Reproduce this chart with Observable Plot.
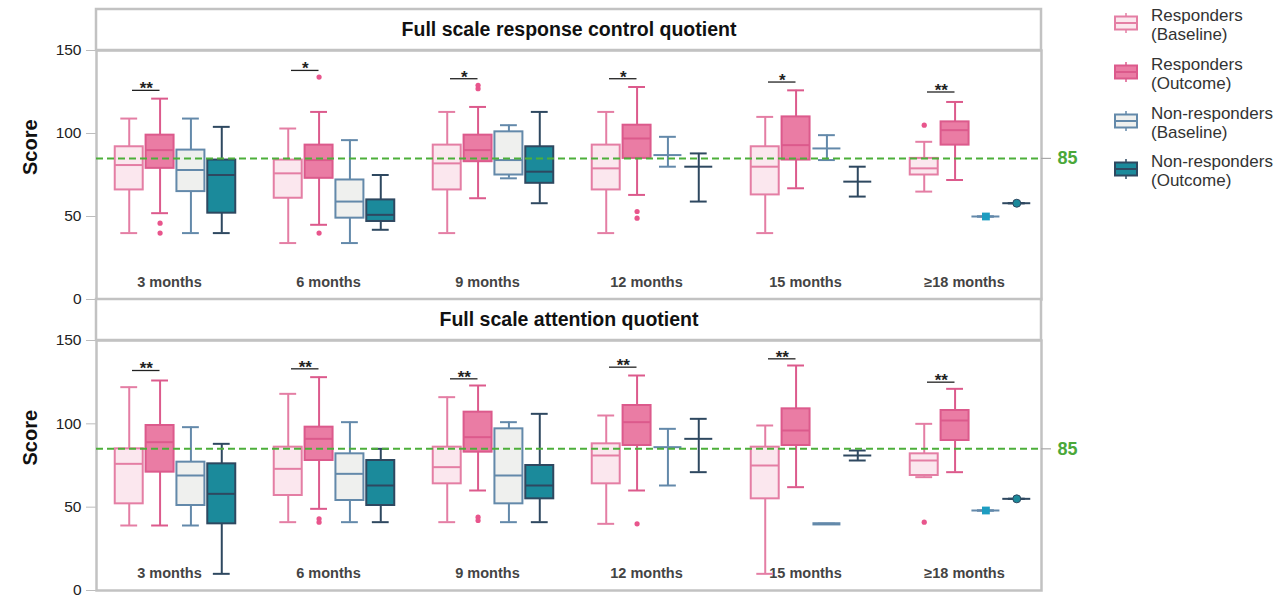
<!DOCTYPE html>
<html><head><meta charset="utf-8">
<script src="https://cdn.jsdelivr.net/npm/d3@7"></script>
<script src="https://cdn.jsdelivr.net/npm/@observablehq/plot@0.6"></script>
<style>
html,body{margin:0;padding:0;background:#fff;}
#wrap{position:relative;width:1286px;height:598px;font-family:"Liberation Sans",Arial,Helvetica,sans-serif;overflow:hidden;}
#wrap svg{position:absolute;left:0;overflow:visible;}
#wrap g[aria-label="y-axis tick"], #wrap g[aria-label="y-axis tick"] path, #wrap g[aria-label="y-axis"] line{stroke:#bdbdbd;}
</style></head><body><div id="wrap"></div>
<script>
// ---------- data ----------
const groups = ["3 months", "6 months", "9 months", "12 months", "15 months", "≥18 months"];
const seriesNames = [["Responders", "(Baseline)"], ["Responders", "(Outcome)"], ["Non-responders", "(Baseline)"], ["Non-responders", "(Outcome)"]];
const yTicks = [0, 50, 100, 150];
const threshold = 85;

// stats: [lower whisker, Q1, median, Q3, upper whisker]
const rcqTitle = "Full scale response control quotient";
const rcqRB = [[40,66,81,92,109],[34,61,76,84,103],[40,66,82,93,113],[40,66,79,93,113],[40,63,80,92,110],[65,75,79,85,95]];
const rcqRO = [[52,79,90,99,121],[45,73,84,93,113],[61,83,90,99,116],[63,85,97,105,128],[67,84,93,110,126],[72,93,102,107,119]];
const rcqNB = [[40,65,78,90,109],[34,49,59,72,96],[73,75,84,101,105],[80,87,87,87,98],[84,91,91,91,99],[50,50,50,50,50]];
const rcqNO = [[40,52,75,84,104],[42,47,51,60,75],[58,70,77,92,113],[59,80,80,80,88],[62,71,71,71,80],[58,58,58,58,58]];
const rcqOutRB = [[],[],[],[],[],[105]];
const rcqOutRO = [[46,40],[134,40],[127,129],[53,49],[],[]];
const rcqPointNB = [null,null,null,null,null,50];
const rcqPointNO = [null,null,null,null,null,58];
const rcqSig = ["**","*","*","*","*","**"];
const rcqSigY = [126,138,133,133,131,125];

const fsaqTitle = "Full scale attention quotient";
const fsaqRB = [[39,52,76,85,122],[41,57,73,86,118],[41,64,74,86,116],[40,64,81,88,105],[10,55,75,86,99],[68,69,78,82,100]];
const fsaqRO = [[39,71,89,99,126],[49,78,91,98,128],[60,83,92,107,123],[60,87,101,111,129],[62,87,96,109,135],[71,90,102,108,121]];
const fsaqNB = [[39,51,69,77,98],[41,54,70,82,101],[41,52,69,97,101],[63,86,86,86,97],[40,40,40,40,40],[48,48,48,48,48]];
const fsaqNO = [[10,40,58,76,88],[41,51,63,78,85],[41,55,63,75,106],[71,91,91,91,103],[78,81,81,81,84],[55,55,55,55,55]];
const fsaqOutRB = [[],[],[],[],[],[41]];
const fsaqOutRO = [[],[43,41],[44,42],[40],[],[]];
const fsaqPointNB = [null,null,null,null,null,48];
const fsaqPointNO = [null,null,null,null,null,55];
const fsaqSig = ["**","**","**","**","**","**"];
const fsaqSigY = [132,133,127,134,139,125];

// ---------- styling ----------
const strokeCol = ["#e47ea4", "#dc5a8c", "#6389aa", "#2e4860"];
const fillCol = ["#fbe7ee", "#ea7ca4", "#eff0ee", "#1b8a9b"];
const offs = [-0.291, -0.097, 0.097, 0.291];
const boxHalf = 0.088, capHalf = 0.053;
const xd = [(96 - 175) / 159, (1041 - 175) / 159];
const FONT = '"Liberation Sans", Arial, Helvetica, sans-serif';
const hasAxisMark = typeof Plot.axisY === "function";

function makePanel(cfg) {
  const ptKey = new Set();
  cfg.pointNB.forEach((v, g) => { if (v != null) ptKey.add(g + ":2"); });
  cfg.pointNO.forEach((v, g) => { if (v != null) ptKey.add(g + ":3"); });
  const rows = [];
  cfg.stats.forEach((arr, s) => arr.forEach((st, g) => rows.push({g, s, x: g + offs[s], low: st[0], q1: st[1], med: st[2], q3: st[3], high: st[4], pt: ptKey.has(g + ":" + s)})));
  const outs = [];
  cfg.outs.forEach(([s, arr]) => arr.forEach((vals, g) => vals.forEach(v => outs.push({x: g + offs[s], v}))));
  const sq = [], ci = [];
  cfg.pointNB.forEach((v, g) => { if (v != null) sq.push({x: g + offs[2], v}); });
  cfg.pointNO.forEach((v, g) => { if (v != null) ci.push({x: g + offs[3], v}); });
  const sig = cfg.sig.map((t, g) => ({g, t, y: cfg.sigY[g], xm: g + (offs[0] + offs[1]) / 2 + 0.01}));
  const stripTop = 150 + 41 * 150 / cfg.frameH;
  const flat = d => d.low === d.high && !d.pt;
  const axis = hasAxisMark
    ? [Plot.axisY({ticks: yTicks, tickSize: 10, tickPadding: 5, label: null, fontSize: 15.5, color: "#222"})]
    : [];
  return Plot.plot({
    width: 1286, height: cfg.height,
    marginLeft: 96, marginRight: 245, marginTop: cfg.marginTop, marginBottom: cfg.marginBottom,
    style: {background: "transparent", overflow: "visible", fontFamily: FONT, fontSize: "15.5px", color: "#222"},
    x: {type: "linear", domain: xd, axis: null},
    y: {domain: [0, 150], ticks: yTicks, tickSize: 10, tickPadding: 5, label: null, grid: false},
    color: {type: "identity"},
    marks: [
      ...axis,
      Plot.rect([0], {x1: xd[0], x2: xd[1], y1: 150, y2: stripTop, fill: "white", stroke: "#c2c2c2", strokeWidth: 2.5}),
      Plot.text([cfg.title], {x: (xd[0] + xd[1]) / 2, y: (150 + stripTop) / 2, text: d => d, fontWeight: "bold", fontSize: 19.5, fill: "#111"}),
      Plot.frame({stroke: "#c2c2c2", strokeWidth: 2.5}),
      Plot.text(["Score"], {frameAnchor: "left", dx: -66, rotate: -90, text: d => d, fontSize: 20, fontWeight: "bold", fill: "#111"}),
      Plot.text(groups, {x: (d, i) => i, y: 10.5, dx: -6, text: d => d, fontWeight: "bold", fontSize: 14.5, fill: "#444"}),
      // whiskers
      Plot.ruleX(rows, {x: "x", y1: "low", y2: "q1", stroke: d => strokeCol[d.s], strokeWidth: 2}),
      Plot.ruleX(rows, {x: "x", y1: "q3", y2: "high", stroke: d => strokeCol[d.s], strokeWidth: 2}),
      Plot.ruleY(rows, {y: "low", x1: d => d.x - capHalf, x2: d => d.x + capHalf, stroke: d => strokeCol[d.s], strokeWidth: 2}),
      Plot.ruleY(rows, {y: "high", x1: d => d.x - capHalf, x2: d => d.x + capHalf, stroke: d => strokeCol[d.s], strokeWidth: 2}),
      // boxes
      Plot.rect(rows.filter(d => d.q3 > d.q1), {x1: d => d.x - boxHalf, x2: d => d.x + boxHalf, y1: "q1", y2: "q3", fill: d => fillCol[d.s], stroke: d => strokeCol[d.s], strokeWidth: 2}),
      Plot.ruleY(rows.filter(d => !flat(d)), {y: "med", x1: d => d.x - boxHalf, x2: d => d.x + boxHalf, stroke: d => strokeCol[d.s], strokeWidth: 2}),
      Plot.ruleY(rows.filter(flat), {y: "med", x1: d => d.x - boxHalf, x2: d => d.x + boxHalf, stroke: d => strokeCol[d.s], strokeWidth: 3.2}),
      // outliers
      Plot.dot(outs, {x: "x", y: "v", r: 2.6, fill: "#e8558c", stroke: null}),
      // single observations
      Plot.dot(sq, {x: "x", y: "v", symbol: "square", r: 4.4, fill: "#1d9dc1", stroke: null}),
      Plot.dot(ci, {x: "x", y: "v", symbol: "circle", r: 4, fill: "#1b8a9b", stroke: "#2e4860", strokeWidth: 1}),
      // threshold
      Plot.ruleY([threshold], {stroke: "#4caf3a", strokeWidth: 2, strokeDasharray: "7,4"}),
      Plot.ruleY([threshold], {x1: xd[1], x2: xd[1] + 10 / 159, stroke: "#a8a8a8", strokeWidth: 1.2}),
      Plot.text([threshold], {x: xd[1], y: d => d, text: d => String(d), dx: 16, textAnchor: "start", fill: "#4aa83a", fontWeight: "bold", fontSize: 18}),
      // significance
      Plot.ruleY(sig, {y: "y", x1: d => d.xm - 0.0865, x2: d => d.xm + 0.0865, stroke: "#222", strokeWidth: 1.3}),
      Plot.text(sig, {x: "xm", y: "y", text: "t", dy: -1.5, fontSize: 17, fontWeight: "bold", fill: "#222"})
    ]
  });
}

const wrap = document.getElementById("wrap");
const top1 = makePanel({
  title: rcqTitle, stats: [rcqRB, rcqRO, rcqNB, rcqNO],
  outs: [[0, rcqOutRB], [1, rcqOutRO]],
  pointNB: rcqPointNB, pointNO: rcqPointNO,
  sig: rcqSig, sigY: rcqSigY, height: 305, marginTop: 50, marginBottom: 6, frameH: 249
});
top1.style.top = "0px";
wrap.appendChild(top1);
const bot = makePanel({
  title: fsaqTitle, stats: [fsaqRB, fsaqRO, fsaqNB, fsaqNO],
  outs: [[0, fsaqOutRB], [1, fsaqOutRO]],
  pointNB: fsaqPointNB, pointNO: fsaqPointNO,
  sig: fsaqSig, sigY: fsaqSigY, height: 308, marginTop: 50, marginBottom: 8, frameH: 250
});
bot.style.top = "290px";
wrap.appendChild(bot);

// ---------- legend ----------
const lg = d3.select(wrap).append("svg")
  .attr("width", 186).attr("height", 200)
  .style("left", "1100px").style("top", "0px")
  .attr("font-family", FONT);
const legY = [23, 72, 121, 169];
seriesNames.forEach((lines, i) => {
  const g = lg.append("g").attr("transform", `translate(0,${legY[i]})`);
  g.append("line").attr("x1", 26).attr("x2", 26).attr("y1", -10).attr("y2", 10).attr("stroke", strokeCol[i]).attr("stroke-width", 1.5);
  g.append("rect").attr("x", 15).attr("y", -6.5).attr("width", 22).attr("height", 13).attr("fill", fillCol[i]).attr("stroke", strokeCol[i]).attr("stroke-width", 2);
  g.append("line").attr("x1", 15).attr("x2", 37).attr("y1", 0).attr("y2", 0).attr("stroke", strokeCol[i]).attr("stroke-width", 2);
  g.append("text").attr("x", 51).attr("y", -8).attr("dy", "0.35em").attr("font-size", 17).attr("fill", "#333").text(lines[0]);
  g.append("text").attr("x", 51).attr("y", 11).attr("dy", "0.35em").attr("font-size", 17).attr("fill", "#333").text(lines[1]);
});
</script></body></html>
